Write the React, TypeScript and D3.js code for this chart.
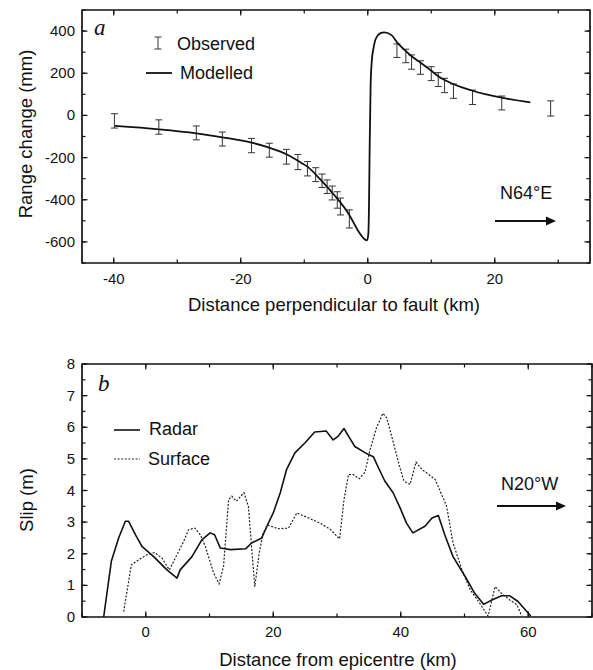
import React from 'react';
import * as d3 from 'd3';

// panel a: observed range change with error bars
const obsX = [-39.9, -32.9, -27.0, -22.9, -18.3, -15.5, -12.8, -11.0, -9.5, -8.2, -7.2, -6.4, -5.6, -4.8, -4.3, -2.9, 4.6, 6.0, 6.9, 8.3, 10.0, 11.1, 12.1, 13.5, 16.5, 21.1, 28.8];
const obsY = [-26, -55, -83, -112, -143, -165, -196, -221, -253, -281, -310, -338, -368, -401, -432, -491, 307, 282, 253, 227, 198, 170, 142, 115, 86, 59, 33];
const obsErr = [34, 34, 33, 33, 34, 33, 35, 36, 34, 33, 32, 32, 33, 39, 40, 43, 32, 32, 34, 32, 33, 33, 34, 34, 34, 33, 36];

// panel a: modelled curve
const modelX = [-39.8, -32.9, -27.0, -22.9, -18.3, -15.5, -12.8, -10.5, -9.5, -7.4, -5.3, -2.9, -1.6, -1.0, -0.5, -0.1, 0.1, 0.2, 0.3, 0.45, 0.65, 0.9, 1.3, 2.0, 2.6, 3.7, 4.75, 5.3, 6.86, 8.3, 9.5, 10.0, 11.6, 13.45, 16.5, 21.1, 25.6];
const modelY = [-50, -66, -85, -104, -129, -153, -184, -224, -243, -306, -377, -472, -543, -570, -587, -592, -560, -420, -150, 140, 263, 318, 366, 390, 394, 382, 342, 325, 282, 250, 224, 212, 176, 149, 117, 84, 62];

// panel b: slip profiles
const radarX = [-6.6, -5.4, -4.25, -3.2, -2.7, -1.6, -0.6, 1.24, 3.33, 4.9, 5.4, 7.25, 8.8, 10.1, 10.8, 11.7, 13.3, 15.7, 16.6, 18.2, 19.0, 20.0, 21.1, 22.1, 23.4, 25.0, 26.5, 28.3, 29.4, 30.2, 31.1, 31.8, 32.8, 34.7, 35.7, 36.5, 37.5, 38.8, 39.9, 40.9, 41.9, 43.8, 44.9, 45.9, 46.9, 48.2, 50.1, 51.6, 53.0, 54.3, 55.8, 57.1, 58.4, 59.5, 60.4];
const radarY = [0, 1.76, 2.5, 3.03, 3.03, 2.6, 2.23, 1.91, 1.49, 1.23, 1.49, 1.91, 2.44, 2.66, 2.6, 2.18, 2.13, 2.16, 2.34, 2.5, 2.87, 3.29, 3.93, 4.67, 5.19, 5.51, 5.85, 5.88, 5.6, 5.72, 5.96, 5.72, 5.39, 5.16, 5.07, 4.72, 4.3, 3.93, 3.45, 2.97, 2.66, 2.87, 3.13, 3.21, 2.6, 1.91, 1.28, 0.75, 0.4, 0.54, 0.67, 0.67, 0.49, 0.24, 0.03];
const surfX = [-3.46, -2.9, -2.26, -1.1, 0.2, 1.4, 2.55, 3.7, 4.75, 5.95, 6.7, 7.7, 8.55, 9.35, 10.65, 11.5, 12.2, 13.0, 13.5, 14.2, 15.4, 16.1, 16.6, 17.1, 17.8, 18.4, 19.2, 20.8, 22.4, 23.7, 25.2, 27.3, 28.9, 30.4, 31.1, 31.8, 32.6, 33.5, 34.4, 35.2, 36.2, 37.2, 37.8, 38.7, 39.8, 40.5, 41.45, 42.4, 43.3, 45.4, 47.2, 48.2, 49.6, 50.9, 52.4, 53.7, 54.8, 55.8, 57.1, 58.2, 59.0];
const surfY = [0.17, 0.86, 1.65, 1.81, 1.97, 2.04, 1.86, 1.49, 1.91, 2.39, 2.76, 2.81, 2.6, 2.23, 1.39, 1.05, 1.6, 3.71, 3.82, 3.66, 3.93, 3.5, 2.23, 0.96, 2.02, 2.66, 2.9, 2.79, 2.81, 3.29, 3.16, 2.97, 2.78, 2.47, 3.71, 4.5, 4.5, 4.37, 4.58, 5.3, 5.99, 6.44, 6.3, 5.62, 4.77, 4.3, 4.19, 4.9, 4.67, 4.35, 3.5, 2.34, 1.49, 0.86, 0.43, 0.03, 0.96, 0.75, 0.54, 0.39, 0.03];

// tick labels
const xTicksA = [-40, -20, 0, 20];
const yTicksA = [-600, -400, -200, 0, 200, 400];
const xTicksB = [0, 20, 40, 60];
const yTicksB = [0, 1, 2, 3, 4, 5, 6, 7, 8];

const FONT = '"Liberation Sans", Arial, Helvetica, sans-serif';
const SERIF = '"Liberation Serif", "Times New Roman", serif';
const INK = '#111';

// box frame, inward ticks on all four sides, labels bottom and left
const Frame = ({ x, y, majorX, majorY, minorX, minorY, padX }) => {
  const [xl, xr] = x.range();
  const [yb, yt] = y.range();
  const xt = [...minorX.map(v => [v, 3.5]), ...majorX.map(v => [v, 5.5])];
  const yt2 = [...minorY.map(v => [v, 3.5]), ...majorY.map(v => [v, 5.5])];
  return (
    <g>
      <g stroke={INK} strokeWidth={1.2}>
        {xt.map(([v, s], i) => (
          <g key={'x' + i}>
            <line x1={x(v)} x2={x(v)} y1={yb} y2={yb - s} />
            <line x1={x(v)} x2={x(v)} y1={yt} y2={yt + s} />
          </g>
        ))}
        {yt2.map(([v, s], i) => (
          <g key={'y' + i}>
            <line x1={xl} x2={xl + s} y1={y(v)} y2={y(v)} />
            <line x1={xr} x2={xr - s} y1={y(v)} y2={y(v)} />
          </g>
        ))}
        <path d={`M${xl},${yt}H${xr}V${yb}H${xl}Z`} fill="none" strokeWidth={1.7} />
      </g>
      <g fontFamily={FONT} fontSize={15} fill={INK}>
        {majorX.map(v => (
          <text key={v} x={x(v)} y={yb + padX} textAnchor="middle">{String(v)}</text>
        ))}
        {majorY.map(v => (
          <text key={v} x={xl - 7} y={y(v) + 5} textAnchor="end">{String(v)}</text>
        ))}
      </g>
    </g>
  );
};

const Arrow = ({ x0, x1, y }) => (
  <g fill={INK} stroke={INK}>
    <line x1={x0} x2={x1 - 8} y1={y} y2={y} strokeWidth={1.8} />
    <path d={`M${x1},${y}L${x1 - 10},${y - 4.5}L${x1 - 10},${y + 4.5}Z`} stroke="none" />
  </g>
);

const ErrBar = ({ cx, top, bot }) => (
  <g>
    <line x1={cx} x2={cx} y1={top} y2={bot} />
    <line x1={cx - 3.5} x2={cx + 3.5} y1={top} y2={top} />
    <line x1={cx - 3.5} x2={cx + 3.5} y1={bot} y2={bot} />
  </g>
);

const App = () => {
  // ---------- panel a ----------
  const xa = d3.scaleLinear().domain([-45, 35]).range([82, 590]);
  const ya = d3.scaleLinear().domain([-700, 500]).range([263, 10]);
  const modelPath = d3.line<number>()
    .x((d, i) => xa(modelX[i]))
    .y(d => ya(d))
    .curve(d3.curveMonotoneX)(modelY);

  // ---------- panel b ----------
  const xb = d3.scaleLinear().domain([-10, 70]).range([82, 592]);
  const yb = d3.scaleLinear().domain([0, 8]).range([617, 364]);
  const radarPath = d3.line<number>().x((d, i) => xb(radarX[i])).y(d => yb(d))(radarY);
  const surfPath = d3.line<number>().x((d, i) => xb(surfX[i])).y(d => yb(d))(surfY);

  return (
    <svg width={593} height={670} style={{ position: 'absolute', left: 0, top: 0, background: '#fff' }}>
      <Frame x={xa} y={ya} majorX={xTicksA} majorY={yTicksA} minorX={xa.ticks(8)} minorY={ya.ticks(12)} padX={21} />

      <g stroke="#333" strokeWidth={1}>
        {obsX.map((v, i) => (
          <ErrBar key={i} cx={xa(v)} top={ya(obsY[i] + obsErr[i])} bot={ya(obsY[i] - obsErr[i])} />
        ))}
      </g>
      <path d={modelPath} fill="none" stroke={INK} strokeWidth={1.8} />

      {/* legend a */}
      <g stroke="#333" strokeWidth={1}>
        <ErrBar cx={158} top={37} bot={49} />
      </g>
      <line x1={146} x2={172} y1={73} y2={73} stroke={INK} strokeWidth={1.8} />
      <g fontFamily={FONT} fontSize={18} fill={INK}>
        <text x={177} y={50}>Observed</text>
        <text x={180} y={79}>Modelled</text>
        <text x={500} y={199}>N64°E</text>
      </g>
      <text x={94} y={35} fontFamily={SERIF} fontSize={23} fontStyle="italic" fill={INK}>a</text>
      <Arrow x0={495} x1={556} y={221} />

      <g fontFamily={FONT} fontSize={18.5} fill={INK} textAnchor="middle">
        <text x={32} y={134} transform="rotate(-90, 32, 134)">Range change (mm)</text>
        <text x={334} y={311}>Distance perpendicular to fault (km)</text>
      </g>

      <Frame x={xb} y={yb} majorX={xTicksB} majorY={yTicksB} minorX={xb.ticks(8)} minorY={yb.ticks(16)} padX={20} />

      <path d={radarPath} fill="none" stroke={INK} strokeWidth={1.6} strokeLinejoin="round" />
      <path d={surfPath} fill="none" stroke="#222" strokeWidth={1.2} strokeDasharray="2,1.6" />

      {/* legend b */}
      <line x1={114} x2={140} y1={430} y2={430} stroke={INK} strokeWidth={1.6} />
      <line x1={114} x2={140} y1={459} y2={459} stroke="#222" strokeWidth={1.2} strokeDasharray="2,1.6" />
      <g fontFamily={FONT} fontSize={18} fill={INK}>
        <text x={149} y={435}>Radar</text>
        <text x={148} y={465}>Surface</text>
        <text x={501} y={490}>N20°W</text>
      </g>
      <text x={98} y={391} fontFamily={SERIF} fontSize={23} fontStyle="italic" fill={INK}>b</text>
      <Arrow x0={497} x1={566} y={506} />

      <g fontFamily={FONT} fontSize={18.5} fill={INK} textAnchor="middle">
        <text x={33} y={500} transform="rotate(-90, 33, 500)">Slip (m)</text>
        <text x={338} y={666}>Distance from epicentre (km)</text>
      </g>
    </svg>
  );
};

export default App;
